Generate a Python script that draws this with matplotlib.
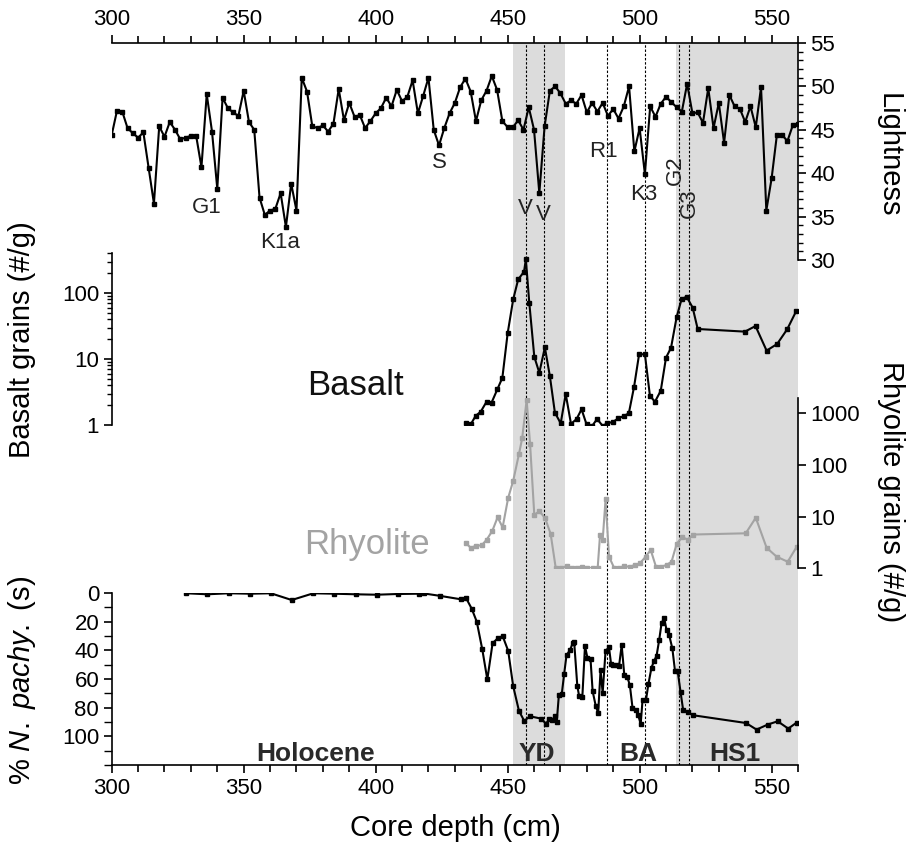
import matplotlib
matplotlib.use("Agg")
import matplotlib.pyplot as plt
from matplotlib.ticker import MultipleLocator, LogLocator, NullFormatter

plt.rcParams["font.family"] = ["Liberation Sans", "DejaVu Sans"]
plt.rcParams["mathtext.fontset"] = "custom"
plt.rcParams["mathtext.rm"] = "Liberation Sans"
plt.rcParams["mathtext.it"] = "Liberation Sans:italic"

# ---- data -------------------------------------------------------------------
light_depth = [300, 302, 304, 306, 308, 310, 312, 314, 316, 318, 320, 322, 324, 326, 328,
               330, 332, 334, 336, 338, 340, 342, 344, 346, 348, 350, 352, 354, 356, 358,
               360, 362, 364, 366, 368, 370, 372, 374, 376, 378, 380, 382, 384, 386, 388,
               390, 392, 394, 396, 398, 400, 402, 404, 406, 408, 410, 412, 414, 416, 418,
               420, 422, 424, 426, 428, 430, 432, 434, 436, 438, 440, 442, 444, 446, 448,
               450, 452, 454, 456, 458, 460, 462, 464, 466, 468, 470, 472, 474, 476, 478,
               480, 482, 484, 486, 488, 490, 492, 494, 496, 498, 500, 502, 504, 506, 508,
               510, 512, 514, 516, 518, 520, 522, 524, 526, 528, 530, 532, 534, 536, 538,
               540, 542, 544, 546, 548, 550, 552, 554, 556, 558, 560]
lightness = [44.4, 47.2, 47.1, 45.2, 44.6, 44.1, 44.7, 40.6, 36.5, 45.4, 44.2, 45.9, 45.0, 43.9, 44.1,
             44.3, 44.3, 40.7, 49.1, 44.8, 38.2, 48.7, 47.5, 47.0, 46.6, 49.5, 45.9, 45.0, 37.2, 35.2,
             35.7, 35.9, 37.7, 33.8, 38.8, 35.7, 51.0, 49.4, 45.4, 45.2, 45.5, 44.8, 45.7, 49.7, 46.1,
             48.1, 46.5, 46.7, 45.2, 46.0, 46.9, 47.5, 48.7, 47.7, 49.6, 48.3, 48.8, 50.7, 46.9, 48.9,
             51.0, 45.0, 43.2, 45.2, 46.9, 48.1, 49.9, 50.9, 49.4, 46.0, 48.4, 49.5, 51.2, 49.6, 46.0,
             45.3, 45.3, 46.1, 45.0, 47.6, 45.0, 37.7, 45.4, 49.5, 50.0, 49.2, 48.0, 48.4, 48.0, 49.0,
             47.0, 48.1, 47.1, 48.1, 46.6, 47.4, 46.3, 47.7, 50.0, 42.5, 45.2, 39.9, 47.7, 46.5, 48.0,
             48.8, 48.2, 47.6, 47.1, 50.3, 46.9, 47.0, 45.8, 49.8, 45.2, 48.1, 43.5, 49.0, 47.7, 47.4,
             45.9, 47.7, 45.3, 49.9, 35.7, 39.4, 44.4, 44.4, 43.7, 45.5, 45.7]

basalt_depth = [434.1, 436.0, 437.9, 439.8, 442.0, 443.9, 446.1, 448.0, 450.0, 452.1, 454.0,
                456.2, 456.9, 458.2, 460.1, 462.0, 464.1, 466.0, 467.9, 470.1, 472.0, 474.0,
                476.1, 478.0, 479.9, 482.0, 483.9, 486.0, 487.8, 490.0, 491.9, 494.0, 495.9,
                497.9, 499.8, 502.0, 503.9, 505.8, 508.0, 510.0, 511.9, 514.0, 515.9, 517.8,
                520.1, 522.0, 539.9, 543.9, 548.1, 552.1, 555.9, 559.4]
basalt = [1.08, 1.02, 1.38, 1.59, 2.25, 2.18, 3.47, 5.2, 24.5, 80, 161,
          210, 324, 71, 10.8, 6.2, 15, 5.5, 1.54, 1.06, 2.95, 1.04,
          1.23, 1.73, 1.02, 0.97, 1.23, 0.97, 1.06, 1.12, 1.26, 1.37, 1.50,
          3.8, 11.8, 11.8, 2.78, 2.25, 3.3, 10.5, 14.8, 42.8, 81, 88,
          60, 28.5, 26, 31.6, 13.4, 16.9, 28.2, 54]

rhyo_depth = [434.1, 436.0, 437.9, 440.2, 442.1, 444.2, 446.2, 448.1, 450.2, 452.1, 454.3,
              455.5, 457.2, 458.5, 460.1, 462.0, 464.2, 466.3, 468.2, 470.1, 472.3, 474.2,
              476.1, 478.3, 480.2, 482.2, 484.1, 485.0, 486.0, 487.1, 488.4, 490.3, 492.3,
              494.2, 496.3, 498.2, 500.1, 502.3, 504.2, 506.2, 508.1, 510.2, 512.1, 514.0,
              516.1, 518.2, 520.3, 540.2, 544.0, 548.1, 551.9, 556.1, 559.5]
rhyolite = [3.1, 2.5, 2.7, 2.8, 3.6, 5.3, 9.7, 6.2, 23, 49, 163,
            326, 1800, 253, 10.7, 12.8, 9.3, 4.6, 1.03, 1.0, 1.1, 1.0,
            1.03, 1.07, 1.03, 1.0, 1.0, 4.4, 3.5, 21.6, 1.68, 1.03, 1.03,
            1.1, 1.07, 1.16, 1.25, 1.68, 2.26, 1.07, 1.07, 1.16, 1.34, 2.95,
            4.0, 3.6, 4.5, 4.75, 9.5, 2.5, 1.68, 1.34, 2.6]

pachy_depth = [328.3, 336.2, 344.4, 352.4, 360.3, 368.2, 376.4, 384.3, 392.4, 400.4, 408.3,
               416.4, 418.2, 424.4, 432.3, 434.3, 436.4, 438.3, 440.4, 442.3, 444.3, 446.2,
               448.1, 450.2, 452.1, 454.3, 456.3, 458.4, 462.6, 464.5, 465.8, 466.9, 467.9,
               468.6, 469.4, 470.5, 471.4, 472.3, 473.6, 474.6, 475.2, 476.4, 477.1, 478.3,
               479.3, 480.2, 481.4, 482.2, 483.4, 484.3, 485.2, 486.0, 487.1, 488.4, 489.2,
               490.0, 491.3, 492.2, 493.2, 494.2, 495.3, 496.3, 497.3, 498.5, 499.5, 500.4,
               501.1, 502.4, 503.3, 504.5, 505.5, 506.4, 507.4, 508.3, 509.3, 510.2, 511.2,
               512.4, 513.4, 514.4, 515.5, 516.5, 518.2, 520.3, 540.3, 544.3, 548.5, 552.3,
               556.3, 559.5]
pachy = [0.2, 0.9, 0.2, 0.5, 0.2, 4.9, 0.2, 0.5, 0.9, 1.2, 0.7,
         0.5, 0.3, 2.0, 4.4, 3.7, 11.0, 20, 39.4, 60.3, 35.0, 31.7,
         30, 40.3, 65, 82.3, 89.3, 86, 87.6, 91.1, 88.1, 88.8, 85.8,
         90, 71.3, 70.6, 56.6, 43.4, 39.9, 35.2, 34.1, 65, 72, 72.5,
         37, 45, 46.2, 68.5, 79, 83.7, 53.8, 69.7, 40.3, 38, 49.7,
         50.3, 50.3, 51, 36.4, 57.3, 58.5, 64.3, 80, 81.8, 85.3, 91.6,
         74.8, 74.8, 63.8, 52, 47.3, 44, 32.9, 21.2, 17.3, 25.9, 29.4,
         38.7, 54.3, 54.3, 69, 81.8, 83, 85.3, 90.7, 95.3, 91.8, 89.5,
         94.6, 90.4]

# tephra / event horizons and their labels
event_depth = [457.1, 463.9, 487.5, 502.2, 514.8, 518.8]
period_spans = [(452.0, 471.7), (513.6, 560.0)]
tephra_names = ["G1", "K1a", "S", "V", "V", "R1", "K3", "G2", "G3"]
tephra_x = [336.0, 363.8, 424.0, 456.8, 463.5, 486.2, 501.7, 513.6, 518.7]
tephra_y = [36.1, 32.0, 41.2, 35.9, 35.2, 42.5, 37.5, 40.4, 36.5]
tephra_rot = [0, 0, 0, 0, 0, 0, 0, 90, 90]
period_names = ["Holocene", "YD", "BA", "HS1"]
period_x = [377.4, 461.2, 499.5, 536.2]

# ---- layout (pixel boxes on a 908 x 851 canvas) -----------------------------
W, H = 908, 851
XL, XR = 111.7, 798.0
TICK = 16
LAB = 21


def box(top, bottom):
    return [XL / W, 1 - bottom / H, (XR - XL) / W, (bottom - top) / H]


def label(x, y, s, rot):
    fig.text(x / W, 1 - y / H, s, fontsize=LAB, rotation=rot, ha="center", va="center")


def only_spine(ax, side):
    for s in ("left", "right", "top", "bottom"):
        ax.spines[s].set_visible(s == side)
        ax.spines[s].set_linewidth(1.2)
    ax.set_xticks([])
    ax.set_xlim(300, 560)
    if side == "right":
        ax.yaxis.tick_right()
    ax.tick_params(axis="y", which="major", length=6, width=1.2, labelsize=TICK, pad=3)
    ax.tick_params(axis="y", which="minor", length=3.5, width=1.0)


fig = plt.figure(figsize=(W / 100, H / 100), dpi=100)

# frame: depth axes on top and bottom, shading and event lines
ax0 = fig.add_axes(box(43, 765))
ax0.set_xlim(300, 560)
ax0.set_ylim(0, 1)
ax0.spines["left"].set_visible(False)
ax0.spines["right"].set_visible(False)
ax0.spines["top"].set_linewidth(1.2)
ax0.spines["bottom"].set_linewidth(1.2)
ax0.set_yticks([])
ax0.xaxis.set_major_locator(MultipleLocator(50))
ax0.xaxis.set_minor_locator(MultipleLocator(10))
ax0.tick_params(axis="x", which="both", top=True, labeltop=True, direction="out",
                width=1.2, labelsize=TICK)
ax0.tick_params(axis="x", which="major", length=6)
ax0.tick_params(axis="x", which="minor", length=5)
for a, b in period_spans:
    ax0.axvspan(a, b, color="#dcdcdc", lw=0, zorder=0)
for d in event_depth:
    ax0.axvline(d, color="k", lw=0.8, ls=(0, (2.2, 1.6)), zorder=1)

# lightness
axL = fig.add_axes(box(43, 260), facecolor="none")
only_spine(axL, "right")
axL.set_ylim(30, 55)
axL.yaxis.set_major_locator(MultipleLocator(5))
axL.yaxis.set_minor_locator(MultipleLocator(1))
axL.plot(light_depth, lightness, color="k", lw=1.5, marker="s", ms=3.2)
for name, x, y, r in zip(tephra_names, tephra_x, tephra_y, tephra_rot):
    axL.text(x, y, name, fontsize=TICK, ha="center", va="center", rotation=r,
             color="#222222", clip_on=False)

# basalt grains
axB = fig.add_axes(box(253.3, 425), facecolor="none")
only_spine(axB, "left")
axB.set_yscale("log")
axB.set_ylim(1, 400)
axB.set_yticks([1, 10, 100])
axB.set_yticklabels(["1", "10", "100"])
axB.yaxis.set_minor_locator(LogLocator(subs=range(2, 10)))
axB.yaxis.set_minor_formatter(NullFormatter())
axB.plot(basalt_depth, basalt, color="k", lw=1.5, marker="s", ms=3.2)
axB.text(392.2, 3.9, "Basalt", fontsize=25, ha="center", va="center", color="#111111")

# rhyolite grains
axR = fig.add_axes(box(397.6, 568.3), facecolor="none")
only_spine(axR, "right")
axR.set_yscale("log")
axR.set_ylim(1, 2000)
axR.set_yticks([1, 10, 100, 1000])
axR.set_yticklabels(["1", "10", "100", "1000"])
axR.yaxis.set_minor_locator(LogLocator(subs=range(2, 10)))
axR.yaxis.set_minor_formatter(NullFormatter())
axR.plot(rhyo_depth, rhyolite, color="#a3a3a3", lw=1.5, marker="s", ms=3.2)
axR.text(396.7, 2.9, "Rhyolite", fontsize=25, ha="center", va="center", color="#a3a3a3")

# N. pachyderma (s)
axP = fig.add_axes(box(593, 765), facecolor="none")
only_spine(axP, "left")
axP.set_ylim(120, 0)
axP.set_yticks(range(0, 101, 20))
axP.yaxis.set_minor_locator(MultipleLocator(10))
axP.tick_params(axis="y", which="minor", length=6)
axP.plot(pachy_depth, pachy, color="k", lw=1.5, marker="s", ms=3.2)
for name, x in zip(period_names, period_x):
    axP.text(x, 112, name, fontsize=19, fontweight="bold", ha="center", va="center",
             color="#2a2a2a")

# axis titles
label(889, 155, "Lightness", 270)
label(891, 492, "Rhyolite grains (#/g)", 270)
label(22, 340, "Basalt grains (#/g)", 90)
label(22, 680, r"% $\it{N.\ pachy.}$ (s)", 90)
label(455, 828, "Core depth (cm)", 0)

fig.savefig("out.png", dpi=100)
